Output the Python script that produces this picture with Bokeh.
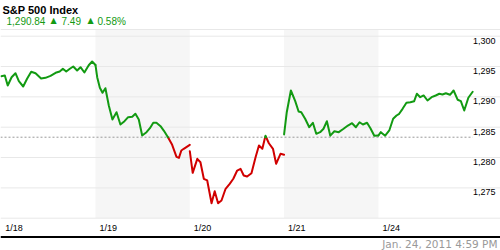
from bokeh.plotting import figure
from bokeh.models import Range1d
from bokeh.core.properties import value
from bokeh.embed import file_html
from bokeh.resources import INLINE

# ---------------- data ----------------
TITLE = "S&P 500 Index"
LAST = 1290.84
CHANGE = 7.49
PCT = 0.58
STAMP = "Jan. 24, 2011 4:59 PM"

day_labels = ["1/18", "1/19", "1/20", "1/21", "1/24"]
shaded_days = [1, 3]
y_ticks = [1300, 1295, 1290, 1285, 1280, 1275]
grid_vals = [1300, 1295, 1290, 1285, 1280, 1275, 1270]

# minutes after the 9:30 open, and index level, for each trading day
d0_min = [0, 15, 27, 43, 59, 73, 91, 107, 124, 142, 165, 183, 204, 225, 242, 255, 269, 284, 298, 314, 328, 344, 362, 376, 390]
d0_val = [1293.41, 1293.52, 1291.87, 1293.24, 1293.90, 1292.58, 1291.71, 1292.98, 1294.13, 1293.90, 1293.03, 1293.14,
          1293.47, 1293.97, 1294.18, 1294.63, 1294.18, 1294.63, 1295.01, 1294.35, 1294.89, 1294.02, 1295.22, 1295.83, 1295.25]

d1_min = [0, 7, 18, 29, 41, 55, 70, 87, 103, 120, 135, 152, 165, 179, 193, 211, 225, 239, 252, 269, 283, 299, 317,
          335, 345, 355, 365, 390]
d1_val = [1295.25, 1293.24, 1291.49, 1290.67, 1291.43, 1288.58, 1286.27, 1287.47, 1285.45, 1285.99, 1286.65, 1286.72,
          1287.21, 1286.27, 1283.63, 1284.18, 1284.84, 1285.73, 1285.73, 1285.17, 1284.41, 1283.40, 1282.10, 1280.10,
          1279.95, 1281.16, 1281.44, 1282.10]

d2_min = [0, 12, 31, 44, 58, 72, 90, 103, 117, 131, 148, 165, 180, 196, 210, 223, 237, 255, 272, 286, 300, 313, 327,
          344, 357, 375, 390]
d2_val = [1281.04, 1277.48, 1279.79, 1279.23, 1276.50, 1276.22, 1272.47, 1274.45, 1272.47, 1272.92, 1274.85, 1275.67,
          1276.50, 1277.86, 1278.14, 1277.04, 1276.87, 1277.42, 1280.06, 1281.98, 1281.44, 1283.60, 1282.36, 1281.44,
          1278.97, 1280.62, 1280.45]

d3_min = [0, 11, 28, 46, 60, 71, 87, 104, 119, 133, 149, 163, 177, 191, 208, 226, 246, 264, 281, 297, 312, 326, 343,
          357, 373, 390]
d3_val = [1283.80, 1287.47, 1291.05, 1289.29, 1287.59, 1287.47, 1286.39, 1285.00, 1285.73, 1283.91, 1284.18, 1284.74,
          1285.99, 1283.60, 1284.34, 1284.18, 1284.74, 1285.28, 1285.66, 1285.00, 1285.82, 1285.45, 1285.73, 1284.84,
          1283.60, 1283.63]

d4_min = [0, 10, 28, 45, 61, 75, 86, 100, 116, 132, 148, 159, 173, 187, 203, 220, 237, 252, 265, 279, 296, 311, 328,
          341, 355, 372, 390]
d4_val = [1283.63, 1284.18, 1283.60, 1284.46, 1286.39, 1286.93, 1287.21, 1288.03, 1289.02, 1289.12, 1289.29, 1290.51,
          1289.95, 1290.23, 1289.40, 1289.95, 1290.23, 1290.51, 1290.39, 1290.60, 1290.34, 1291.05, 1289.52, 1289.29,
          1287.75, 1289.85, 1290.84]

days_min = [d0_min, d1_min, d2_min, d3_min, d4_min]
days_val = [d0_val, d1_val, d2_val, d3_val, d4_val]
SESSION_MIN = 390

# ---------------- layout ----------------
W, H = 500, 250
X0_PX, DAY_PX = 0.7, 94.3
Y_REF_VAL, Y_REF_PX, PX_PER_PT = 1300.0, 35.7, 6.067


def px_x(px):
    return (px - X0_PX) / DAY_PX


def px_y(py):
    return Y_REF_VAL - (py - Y_REF_PX) / PX_PER_PT


GREEN = "#129a12"
RED = "#d10000"
prev_close = LAST - CHANGE

p = figure(width=W, height=H, output_backend="svg", toolbar_location=None,
           x_range=Range1d(px_x(0), px_x(W)), y_range=Range1d(px_y(H), px_y(0)),
           x_axis_type=None, y_axis_type=None, min_border=0)
p.outline_line_color = None
p.background_fill_color = "white"
p.border_fill_color = "white"

band_top = px_y(29)
# shaded day bands
p.quad(left=shaded_days, right=[d + 1 for d in shaded_days], bottom=min(grid_vals), top=band_top,
       fill_color="#f6f6f6", line_color=None)

# grid lines
xl, xr = px_x(0), px_x(W)
p.segment(x0=[xl] * (len(grid_vals) + 1), x1=[xr] * (len(grid_vals) + 1),
          y0=grid_vals + [band_top], y1=grid_vals + [band_top], line_color="#e8e8e8", line_width=1)

# previous close dashed
p.line(x=[xl, len(day_labels)], y=[prev_close, prev_close], line_color="#9a9a9a", line_width=1, line_dash="2 2")


# price line, coloured by side of previous close
def split(xs, ys, thr):
    paths = []
    cur = [(xs[0], ys[0])]
    col = ys[0] >= thr
    for i in range(1, len(xs)):
        a = ys[i] >= thr
        if a == col:
            cur.append((xs[i], ys[i]))
        else:
            t = (thr - ys[i - 1]) / (ys[i] - ys[i - 1])
            xc = xs[i - 1] + t * (xs[i] - xs[i - 1])
            cur.append((xc, thr))
            paths.append((col, cur))
            cur = [(xc, thr), (xs[i], ys[i])]
            col = a
    paths.append((col, cur))
    return paths


gx, gy, rx, ry = [], [], [], []
for d, (mins, vals) in enumerate(zip(days_min, days_val)):
    xs = [d + m / SESSION_MIN for m in mins]
    for up, pts in split(xs, vals, prev_close):
        if up:
            gx.append([q[0] for q in pts]); gy.append([q[1] for q in pts])
        else:
            rx.append([q[0] for q in pts]); ry.append([q[1] for q in pts])

p.multi_line(xs=rx, ys=ry, line_color=RED, line_width=2, line_join="round", line_cap="round")
p.multi_line(xs=gx, ys=gy, line_color=GREEN, line_width=2, line_join="round", line_cap="round")

# y tick labels (right, just under each grid line)
p.text(x=[px_x(495)] * len(y_ticks), y=[v - 4.5 / PX_PER_PT for v in y_ticks],
       text=[f"{v:,}" for v in y_ticks], text_align="right", text_baseline="middle",
       text_font=value("Liberation Sans"), text_font_size="9px", text_color="black")

# x tick labels
p.text(x=[d + 4 / DAY_PX for d in range(len(day_labels))], y=[px_y(227.5)] * len(day_labels),
       text=day_labels, text_align="left", text_baseline="middle",
       text_font=value("Liberation Sans"), text_font_size="9px", text_color="black")

# bottom black rule
p.segment(x0=[xl], x1=[xr], y0=[px_y(236.5)], y1=[px_y(236.5)], line_color="black", line_width=2)

# footer timestamp
p.text(x=[px_x(497)], y=[px_y(243.8)], text=[STAMP], text_align="right", text_baseline="middle",
       text_font=value("DejaVu Sans"), text_font_size="10.5px", text_color="#999999")

# header
p.text(x=[px_x(2)], y=[px_y(9)], text=[TITLE], text_align="left", text_baseline="middle",
       text_font=value("Liberation Sans"), text_font_style="bold", text_font_size="11px", text_color="black")
p.text(x=[px_x(6), px_x(61), px_x(97)], y=[px_y(20.5)] * 3,
       text=[f"{LAST:,.2f}", f"{CHANGE:.2f}", f"{PCT:.2f}%"], text_align="left", text_baseline="middle",
       text_font=value("Liberation Sans"), text_font_size="10px", text_color=GREEN)
p.text(x=[px_x(50), px_x(87)], y=[px_y(20)] * 2, text=["\u25b2", "\u25b2"], text_align="left",
       text_baseline="middle", text_font=value("DejaVu Sans"), text_font_size="8px", text_color=GREEN)

open("out.html", "w").write(file_html(p, INLINE))
